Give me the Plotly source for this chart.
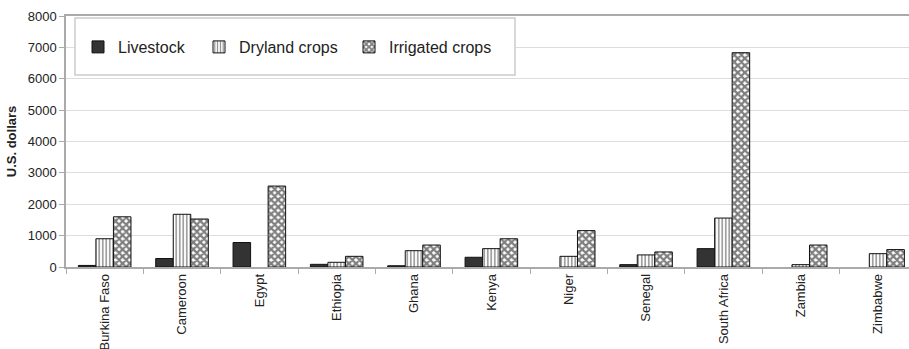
import plotly.graph_objects as go

countries = ["Burkina Faso", "Cameroon", "Egypt", "Ethiopia", "Ghana", "Kenya",
             "Niger", "Senegal", "South Africa", "Zambia", "Zimbabwe"]
livestock = [50, 270, 780, 85, 40, 310, None, 75, 585, None, None]
dryland = [900, 1680, None, 150, 520, 585, 340, 385, 1560, 75, 425]
irrigated = [1600, 1530, 2580, 340, 700, 900, 1160, 480, 6830, 700, 555]
y_ticks = [0, 1000, 2000, 3000, 4000, 5000, 6000, 7000, 8000]

font = "Liberation Sans, Arial, sans-serif"

fig = go.Figure()
fig.add_trace(go.Bar(
    x=countries, y=livestock, name="Livestock", legendwidth=76,
    marker=dict(color="#333333", line=dict(color="#111111", width=1)),
))
fig.add_trace(go.Bar(
    x=countries, y=dryland, name="Dryland crops", legendwidth=105,
    marker=dict(color="white", line=dict(color="#111111", width=1),
                pattern=dict(shape="|", fgcolor="#111111", bgcolor="white",
                             size=3.5, solidity=0.4, fillmode="overlay")),
))
fig.add_trace(go.Bar(
    x=countries, y=irrigated, name="Irrigated crops",
    marker=dict(color="white", line=dict(color="#111111", width=1),
                pattern=dict(shape="x", fgcolor="#000000", bgcolor="white",
                             size=5, solidity=0.7, fillmode="overlay")),
))

W, H = 909, 349
L, R, T, B = 66, 0, 16, 82
pw = W - L - R
ph = H - T - B

def px_x(x):
    return (x - L) / pw

def px_y(y):
    return (H - B - y) / ph

fig.update_layout(
    width=W, height=H,
    margin=dict(l=L, r=R, t=T, b=B, autoexpand=False),
    paper_bgcolor="white", plot_bgcolor="white",
    barmode="group", bargap=0.32, bargroupgap=0,
    font=dict(family=font, size=13, color="#222222"),
    showlegend=True,
    legend=dict(orientation="h", x=px_x(78), y=px_y(47), xanchor="left", yanchor="middle",
                bgcolor="rgba(0,0,0,0)", borderwidth=0,
                font=dict(family=font, size=16, color="#222222"),
                itemwidth=30, traceorder="normal"),
    shapes=[dict(type="rect", xref="paper", yref="paper",
                 x0=px_x(75), x1=px_x(515), y0=px_y(75), y1=px_y(18),
                 line=dict(color="#cccccc", width=1.5), fillcolor="white", layer="above")],
    xaxis=dict(range=[-0.5, 10.4], showline=True, linecolor="#aaaaaa", linewidth=1.5,
               mirror=True, ticks="outside", tickson="boundaries", ticklen=5,
               tickcolor="#aaaaaa", tickangle=-90, showgrid=False, automargin=False,
               tickfont=dict(family=font, size=13, color="#222222")),
    yaxis=dict(range=[0, 8000], tickvals=y_ticks, showline=True, linecolor="#aaaaaa",
               linewidth=1.5, ticks="outside", ticklen=5, tickcolor="#aaaaaa",
               showgrid=True, gridcolor="#dddddd", gridwidth=1, zeroline=False,
               automargin=False,
               tickfont=dict(family=font, size=13, color="#222222"),
               title=dict(text="<b>U.S. dollars</b>", standoff=8,
                          font=dict(family=font, size=13, color="#222222"))),
)

fig.write_html("out.html", config={"displayModeBar": False},
               post_script="document.body.style.margin='0';")
